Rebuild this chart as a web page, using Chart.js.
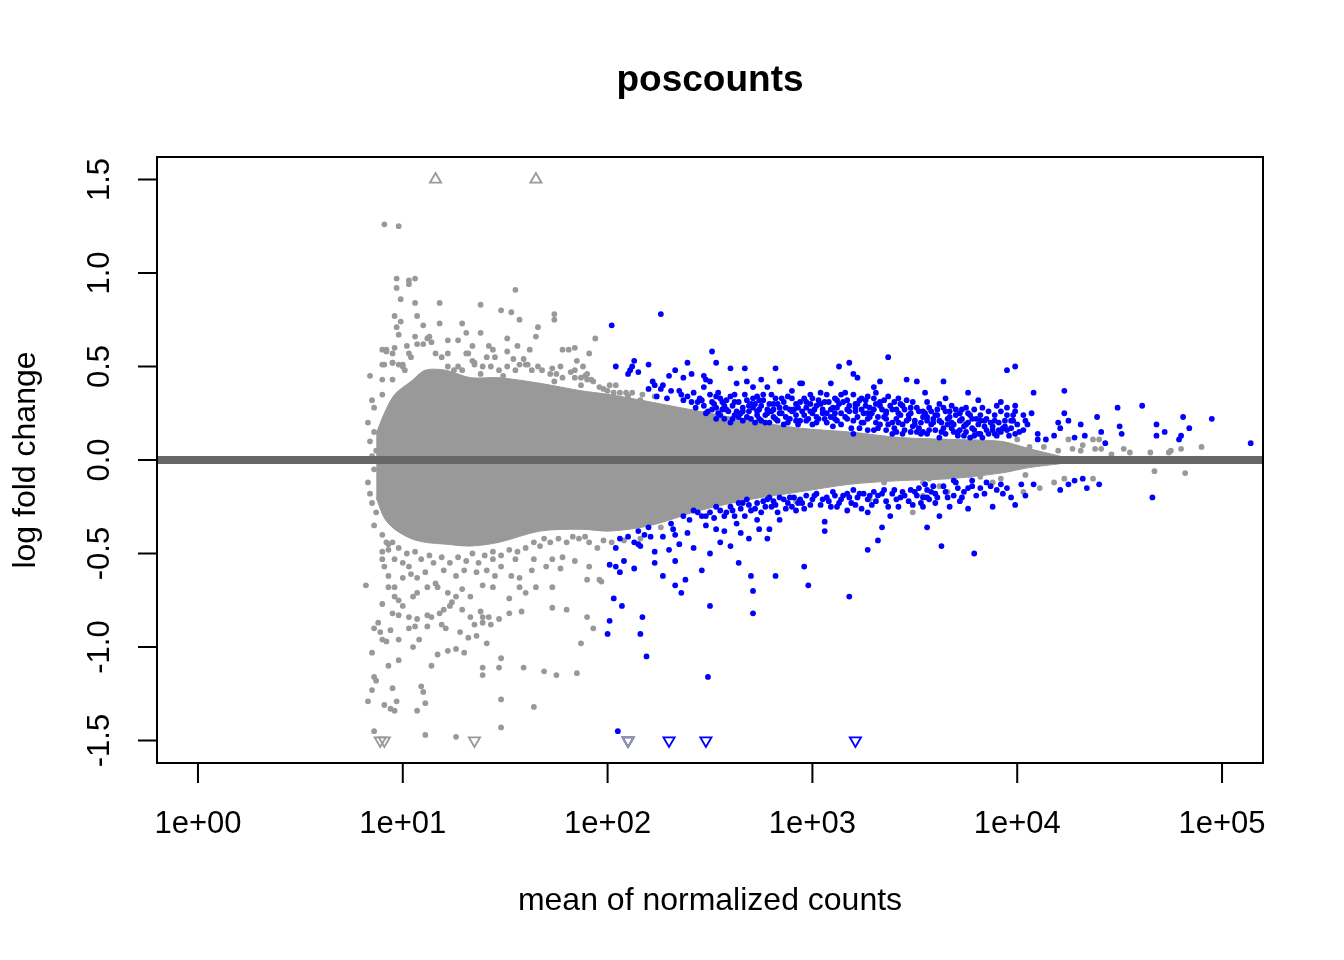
<!DOCTYPE html>
<html>
<head>
<meta charset="utf-8">
<script src="https://cdn.jsdelivr.net/npm/chart.js@4.4.1/dist/chart.umd.min.js"></script>
<style>
  html, body { margin: 0; padding: 0; background: #fff; }
  #wrap { width: 1344px; height: 960px; }
</style>
</head>
<body>
<div id="wrap"><canvas id="maPlot"></canvas></div>
<script>
// MA plot "poscounts": x = log10(mean of normalized counts), y = log fold change

// dense cloud of non-significant genes (outline of the solid grey mass)
const coreLogMean = [0.87, 0.91, 0.96, 1.04, 1.11, 1.21, 1.33, 1.47, 1.67, 1.87, 2.01, 2.21, 2.45, 2.70, 2.94, 3.18, 3.43, 3.67, 3.92, 4.06, 4.21];
const coreUpper   = [0.14, 0.25, 0.35, 0.42, 0.48, 0.48, 0.44, 0.44, 0.41, 0.37, 0.35, 0.31, 0.26, 0.21, 0.17, 0.15, 0.12, 0.11, 0.10, 0.06, 0.02];
const coreLower   = [-0.20, -0.31, -0.37, -0.42, -0.44, -0.45, -0.46, -0.44, -0.38, -0.37, -0.38, -0.35, -0.27, -0.21, -0.17, -0.13, -0.11, -0.10, -0.07, -0.04, -0.02];

// non-significant genes outside the dense cloud [log10 mean, lfc]
const nonSigPoints = [
  [0.91,1.26],[0.98,1.25],[0.97,0.97],[0.97,0.92],[1.03,0.96],[1.03,0.94],[1.06,0.97],[0.99,0.86],[1.06,0.84],[1.18,0.84],
  [1.38,0.83],[1.48,0.80],[1.07,0.77],[0.96,0.77],[0.99,0.74],[0.97,0.71],[1.10,0.72],[1.18,0.73],[1.29,0.73],[0.98,0.67],
  [1.06,0.66],[1.31,0.68],[1.38,0.68],[1.13,0.66],[1.22,0.64],[1.27,0.64],[1.34,0.61],[1.02,0.61],[0.96,0.60],[0.92,0.58],
  [1.03,0.57],[1.42,0.61],[1.44,0.59],[1.31,0.57],[1.41,0.55],[0.91,0.51],[0.95,0.52],[1.00,0.51],[1.27,0.50],[1.35,0.52],
  [1.39,0.50],[1.43,0.50],[0.84,0.45],[0.90,0.43],[0.95,0.43],[0.90,0.35],[0.86,0.28],[0.83,0.20],[0.92,0.22],
  [0.90,0.59],[0.92,0.59],[0.95,0.57],[0.95,0.52],[0.90,0.51],[0.98,0.51],[1.00,0.50],[1.01,0.48],[1.04,0.55],[1.07,0.62],
  [1.10,0.62],[1.12,0.65],[1.14,0.63],[1.16,0.57],[1.19,0.55],[1.22,0.57],[1.22,0.50],[1.25,0.48],[1.29,0.48],[1.32,0.57],
  [1.34,0.53],[1.35,0.51],[1.38,0.46],[1.45,0.55],[1.47,0.48],[1.55,0.48],[1.57,0.51],[1.61,0.51],[1.63,0.48],[1.66,0.50],
  [1.68,0.48],[1.75,0.46],[1.78,0.44],[1.84,0.44],[1.87,0.44],[1.90,0.43],[1.96,0.39],[2.00,0.37],[2.03,0.36],[2.06,0.36],
  [2.10,0.34],[0.84,0.10],[0.85,0.02],[0.86,-0.05],[0.84,-0.18],[0.86,0.15],[0.87,-0.28],[0.87,0.05],[0.85,0.32],[0.86,-0.35],
  [1.55,0.91],[1.53,0.79],[1.57,0.75],[1.66,0.71],[1.65,0.66],[1.74,0.78],[1.74,0.75],[1.94,0.65],[1.78,0.59],[1.81,0.59],
  [1.84,0.60],[1.91,0.57],[1.85,0.53],[1.62,0.59],[1.51,0.65],[1.56,0.61],[1.51,0.58],[1.54,0.54],[1.59,0.54],[1.60,0.51],
  [1.51,0.50],[1.77,0.50],[1.88,0.50],[1.90,0.46],[1.73,0.49],[1.72,0.46],[1.82,0.47],[1.84,0.48],[1.89,0.45],[1.49,0.45],
  [1.74,0.42],[1.87,0.40],[1.92,0.43],[1.93,0.42],[1.98,0.38],[2.01,0.40],[2.04,0.40],[2.09,0.36],[2.12,0.36],[2.17,0.35],
  [2.23,0.34],[2.03,0.32],[2.16,0.32],
  [0.83,-0.12],[0.85,-0.23],[0.82,-0.67],[0.90,-0.49],[0.93,-0.48],[0.90,-0.53],[0.91,-0.57],[0.93,-0.62],[0.96,-0.68],[0.93,-0.68],
  [0.90,-0.77],[0.96,-0.73],[0.98,-0.75],[0.95,-0.82],[0.98,-0.83],[1.00,-0.78],[1.05,-0.73],[1.07,-0.71],[1.12,-0.68],[1.03,-0.84],
  [1.07,-0.85],[1.12,-0.83],[1.14,-0.84],[1.18,-0.82],[1.20,-0.80],[1.23,-0.78],[1.24,-0.76],[1.29,-0.80],[1.33,-0.84],[1.38,-0.81],
  [1.39,-0.84],[1.42,-0.84],[1.47,-0.85],[0.88,-0.87],[0.86,-0.90],[0.89,-0.92],[0.94,-0.91],[1.03,-0.90],[1.06,-0.89],[1.12,-0.89],
  [1.19,-0.88],[1.21,-0.90],[1.28,-0.92],[1.35,-0.88],[1.39,-0.87],[1.43,-0.88],[0.90,-0.96],[0.92,-0.97],[0.98,-0.96],[1.08,-0.96],
  [1.05,-1.00],[1.32,-0.95],[1.36,-0.94],[1.41,-0.98],[0.85,-1.03],[1.17,-1.04],[1.22,-1.02],[1.26,-1.01],[1.30,-1.03],[1.48,-1.06],
  [0.98,-1.07],[0.93,-1.10],[1.14,-1.10],[1.39,-1.11],[1.39,-1.15],[1.47,-1.11],[0.86,-1.16],[0.87,-1.18],[0.85,-1.23],[0.95,-1.22],
  [1.09,-1.21],[1.10,-1.24],[0.83,-1.29],[0.97,-1.29],[0.91,-1.31],[0.94,-1.33],[0.96,-1.34],[1.07,-1.34],[1.11,-1.30],[1.48,-1.28],
  [0.86,-1.45],[1.11,-1.47],[1.26,-1.48],[1.48,-1.43],
  [1.00,-0.63],[1.04,-0.61],[1.07,-0.63],[1.11,-0.60],[1.16,-0.66],[1.22,-0.71],[1.26,-0.73],[1.29,-0.69],[1.33,-0.73],[1.26,-0.62],
  [1.30,-0.59],[1.36,-0.60],[1.41,-0.59],[1.44,-0.53],[1.48,-0.57],[1.45,-0.62],[1.39,-0.67],[1.44,-0.68],[1.20,-0.59],[1.17,-0.68],
  [0.96,-0.53],[1.00,-0.55],[1.03,-0.57],[0.92,-0.44],[0.95,-0.44],
  [0.90,-0.40],[0.93,-0.45],[0.98,-0.47],[1.02,-0.50],[1.06,-0.49],[1.09,-0.53],[1.13,-0.51],[1.15,-0.55],[1.19,-0.52],[1.23,-0.55],
  [1.27,-0.52],[1.31,-0.54],[1.34,-0.50],[1.37,-0.55],[1.40,-0.51],[1.44,-0.49],[1.48,-0.51],[1.52,-0.48],[1.56,-0.49],[1.60,-0.47],
  [1.64,-0.44],[1.69,-0.42],[1.72,-0.44],[1.76,-0.42],[1.80,-0.44],[1.83,-0.41],[1.89,-0.41],[1.98,-0.43],[2.02,-0.44],
  [1.53,-0.62],[1.57,-0.63],[1.65,-0.68],[1.73,-0.68],[1.52,-0.74],[1.57,-0.68],[1.60,-0.71],[1.52,-0.82],[1.58,-0.81],[1.73,-0.79],
  [1.80,-0.80],[1.90,-0.84],[1.93,-0.90],[1.87,-0.98],[1.59,-1.11],[1.69,-1.13],[1.75,-1.15],[1.85,-1.14],[1.64,-1.32],[1.84,-0.54],
  [1.91,-0.57],[1.90,-0.64],[1.96,-0.64],[1.73,-0.53],[1.78,-0.52],[1.77,-0.58],[1.70,-0.57],[1.64,-0.53],[1.63,-0.59],[1.67,-0.46],
  [1.86,-0.42],[1.91,-0.44],[1.95,-0.47],[1.55,-0.53],[1.97,-0.65],[2.08,-0.43],[2.16,-0.42],[2.26,-0.36],
  [2.92,-0.22],[3.28,-0.21],[3.49,-0.28],[3.54,-0.19],[3.54,-0.12],[3.35,-0.12],[3.73,0.21],[4.25,0.11],[4.27,0.06],[4.32,0.08],
  [4.37,0.11],[4.38,0.06],[4.40,0.11],[4.41,0.06],[4.52,0.06],[4.65,0.04],[4.74,0.04],[4.80,0.06],[4.90,0.07],[4.82,-0.07],
  [4.67,-0.06],[4.75,0.05],[4.55,0.04],[4.46,0.03],[4.37,-0.10],[4.23,-0.10],[4.18,-0.12],[4.11,-0.15],[4.04,-0.08],[4.03,-0.17],
  [3.92,-0.10],[3.88,-0.12],[3.82,-0.09],[3.77,-0.08],[3.66,-0.17],[3.62,-0.14],[3.57,-0.10],[4.00,0.11],[4.06,0.07],[4.13,0.07],
  [4.20,0.05],[4.31,0.05]
];

// significant genes (padj < 0.1) [log10 mean, lfc]
const sigPoints = [
  [2.02,0.72],[2.26,0.78],[2.51,0.58],[2.04,0.50],[2.13,0.53],[2.12,0.50],[2.11,0.48],[2.10,0.46],[2.15,0.47],[2.20,0.51],
  [2.20,0.38],[2.39,0.52],[2.53,0.52],[2.33,0.48],[2.30,0.45],[2.41,0.46],[2.37,0.44],[2.60,0.49],[2.67,0.49],[2.82,0.49],
  [2.22,0.42],[2.23,0.40],[2.27,0.40],[2.26,0.38],[2.24,0.34],[2.31,0.37],[2.35,0.37],[2.36,0.35],[2.39,0.34],[2.37,0.32],
  [2.47,0.45],[2.48,0.43],[2.50,0.42],[2.47,0.39],[2.63,0.41],[2.68,0.42],[2.71,0.39],[2.75,0.43],[2.78,0.39],[2.84,0.42],
  [2.90,0.37],[2.95,0.41],[3.09,0.41],[3.13,0.50],[3.18,0.52],[3.20,0.46],[3.22,0.44],[3.37,0.55],[3.33,0.42],[3.30,0.39],
  [3.46,0.43],[3.51,0.42],[3.55,0.36],[2.29,0.33],[2.44,0.31],[2.53,0.34],[2.56,0.31],[2.58,0.32],
  [2.53,0.28],[2.56,0.27],[2.61,0.29],[2.65,0.25],[2.68,0.32],[2.71,0.28],[2.73,0.24],[2.76,0.32],[2.78,0.27],[2.81,0.23],
  [2.83,0.30],[2.85,0.25],[2.88,0.20],[2.61,0.22],[2.66,0.21],[2.72,0.20],[2.79,0.20],[2.53,0.22],[2.91,0.27],[2.94,0.31],
  [2.97,0.28],[3.00,0.25],[3.03,0.32],[3.05,0.27],[3.09,0.23],[3.10,0.28],[3.14,0.35],[3.16,0.36],[3.15,0.31],[3.17,0.27],
  [3.20,0.21],[3.23,0.32],[3.25,0.25],[3.28,0.28],[3.32,0.23],[3.35,0.32],[3.36,0.26],[3.39,0.20],[3.43,0.24],[3.46,0.21],
  [3.49,0.18],[3.53,0.14],[3.55,0.25],[3.57,0.28],[3.57,0.16],[3.30,0.16],[3.10,0.18],[3.02,0.20],[2.94,0.21],[3.20,0.14],
  [3.39,0.14],[2.94,0.41],[3.07,0.35],[3.24,0.33],[3.37,0.34],[3.46,0.32],
  [2.45,0.33],[2.47,0.29],[2.49,0.26],[2.51,0.31],[2.55,0.24],[2.57,0.29],[2.59,0.26],[2.60,0.34],[2.62,0.31],[2.63,0.26],
  [2.64,0.23],[2.66,0.28],[2.67,0.35],[2.69,0.26],[2.70,0.22],[2.71,0.33],[2.72,0.30],[2.74,0.27],[2.75,0.21],[2.76,0.35],
  [2.77,0.24],[2.79,0.30],[2.80,0.26],[2.82,0.33],[2.83,0.21],[2.84,0.28],[2.86,0.31],[2.87,0.23],[2.89,0.27],[2.90,0.33],
  [2.92,0.24],[2.93,0.19],[2.95,0.26],[2.96,0.33],[2.98,0.22],[2.99,0.30],[3.01,0.27],[3.02,0.23],[3.04,0.30],[3.06,0.22],
  [3.07,0.25],[3.08,0.31],[3.11,0.25],[3.12,0.21],[3.13,0.30],[3.16,0.23],[3.18,0.29],[3.19,0.17],[3.21,0.26],[3.22,0.30],
  [3.24,0.20],[3.26,0.29],[3.27,0.22],[3.29,0.25],[3.31,0.30],[3.33,0.19],[3.34,0.27],[3.36,0.22],[3.38,0.29],[3.40,0.17],
  [3.41,0.27],[3.42,0.20],[3.44,0.29],[3.45,0.16],[3.47,0.24],[3.48,0.28],[3.50,0.21],[3.51,0.15],[3.52,0.26],[3.58,0.19],
  [3.60,0.24],[3.63,0.15],[3.65,0.26],[3.66,0.19],[3.68,0.20],[3.70,0.27],[3.71,0.13],[3.73,0.22],[3.75,0.15],[3.76,0.20],
  [3.78,0.17],[3.80,0.22],[3.81,0.14],[3.84,0.18],[3.86,0.14],[3.89,0.21],[3.91,0.16],[3.94,0.21],[3.96,0.13],
  [2.42,0.36],[2.50,0.35],[2.54,0.36],[2.62,0.35],[2.73,0.34],[2.80,0.35],[2.88,0.34],[2.99,0.35],[3.04,0.36],[3.11,0.33],
  [3.20,0.35],[3.27,0.34],[3.31,0.36],[3.42,0.33],
  [2.41,0.31],[2.46,0.32],[2.52,0.30],[2.55,0.33],[2.64,0.31],[2.70,0.30],[2.74,0.32],[2.81,0.30],[2.85,0.33],[2.92,0.30],
  [2.97,0.31],[3.00,0.33],[3.06,0.31],[3.12,0.32],[3.17,0.32],[3.21,0.30],[3.26,0.32],[3.30,0.33],[3.33,0.31],[3.40,0.31],
  [3.43,0.30],[3.49,0.31],[3.56,0.31],[3.62,0.30],[3.68,0.29],[3.75,0.28],[3.83,0.28],[3.90,0.29],
  [2.43,0.28],[2.48,0.25],[2.51,0.27],[2.54,0.25],[2.58,0.27],[2.62,0.24],[2.66,0.26],[2.69,0.29],[2.73,0.26],[2.75,0.29],
  [2.78,0.25],[2.81,0.27],[2.84,0.25],[2.87,0.28],[2.90,0.26],[2.93,0.28],[2.96,0.24],[2.99,0.26],[3.02,0.29],[3.05,0.25],
  [3.09,0.27],[3.12,0.28],[3.14,0.25],[3.18,0.26],[3.21,0.28],[3.24,0.27],[3.27,0.25],[3.30,0.27],[3.33,0.29],[3.36,0.25],
  [3.39,0.27],[3.42,0.25],[3.45,0.27],[3.48,0.25],[3.51,0.28],[3.54,0.23],[3.58,0.26],[3.61,0.24],[3.64,0.28],[3.67,0.26],
  [3.70,0.24],[3.73,0.27],[3.76,0.25],[3.79,0.27],[3.82,0.24],[3.86,0.26],[3.89,0.24],[3.92,0.26],[3.95,0.24],[3.99,0.26],
  [4.03,0.24],[4.07,0.25],
  [2.57,0.22],[2.60,0.20],[2.68,0.23],[2.74,0.22],[2.77,0.20],[2.82,0.22],[2.86,0.19],[2.89,0.22],[2.92,0.21],[2.97,0.21],
  [3.00,0.19],[3.03,0.22],[3.07,0.20],[3.11,0.22],[3.14,0.19],[3.17,0.22],[3.22,0.23],[3.25,0.20],[3.28,0.23],[3.31,0.20],
  [3.35,0.23],[3.37,0.19],[3.41,0.22],[3.44,0.19],[3.47,0.22],[3.50,0.19],[3.53,0.20],[3.56,0.23],[3.59,0.22],[3.63,0.20],
  [3.66,0.22],[3.69,0.19],[3.72,0.21],[3.75,0.19],[3.78,0.22],[3.81,0.19],[3.84,0.21],[3.88,0.18],[3.91,0.20],[3.94,0.18],
  [3.97,0.21],[4.00,0.19],[4.04,0.21],
  [3.23,0.17],[3.27,0.16],[3.32,0.17],[3.36,0.16],[3.41,0.15],[3.44,0.14],[3.48,0.15],[3.52,0.17],[3.56,0.14],[3.60,0.16],
  [3.65,0.14],[3.68,0.17],[3.71,0.15],[3.74,0.13],[3.79,0.16],[3.82,0.14],[3.85,0.16],[3.89,0.14],[3.92,0.15],[3.95,0.16],
  [3.99,0.14],[4.03,0.16],
  [2.04,-0.47],[2.01,-0.56],[2.04,-0.57],[2.06,-0.60],[2.08,-0.54],[2.13,-0.58],[2.03,-0.74],[2.07,-0.78],[2.01,-0.86],[2.00,-0.93],
  [2.17,-0.84],[2.16,-0.93],[2.19,-1.05],[2.05,-1.45],[2.06,-0.42],[2.10,-0.41],[2.13,-0.44],[2.15,-0.45],[2.18,-0.40],[2.20,-0.36],
  [2.23,-0.55],[2.33,-0.54],[2.27,-0.62],[2.33,-0.67],[2.36,-0.71],[2.38,-0.64],[2.46,-0.59],[2.50,-0.50],[2.50,-0.78],[2.64,-0.55],
  [2.70,-0.62],[2.71,-0.70],[2.71,-0.82],[2.82,-0.62],[2.96,-0.57],[2.98,-0.67],[3.18,-0.73],[3.27,-0.48],[3.32,-0.43],[3.34,-0.36],
  [3.06,-0.33],[3.06,-0.38],[3.56,-0.36],[2.49,-1.16],[2.16,-0.46],[2.23,-0.49],[2.30,-0.48],[2.35,-0.45],[2.42,-0.47],[2.33,-0.40],
  [2.39,-0.39],[2.48,-0.35],[2.53,-0.37],[2.57,-0.38],[2.55,-0.44],[2.60,-0.46],[2.65,-0.39],[2.69,-0.42],[2.74,-0.37],[2.79,-0.37],
  [2.78,-0.42],[2.84,-0.32],[2.73,-0.32],[2.63,-0.34],[2.67,-0.30],[2.15,-0.38],[2.21,-0.41],[2.27,-0.41],[2.32,-0.37],[2.31,-0.34],
  [2.37,-0.30],[2.40,-0.32],[2.44,-0.28],[2.50,-0.28],[2.55,-0.27],[2.60,-0.25],[2.65,-0.26],[2.68,-0.21],[2.73,-0.23],[2.78,-0.21],
  [2.81,-0.22],[2.84,-0.20],[2.88,-0.23],[2.91,-0.20],[2.94,-0.21],[2.97,-0.19],[3.02,-0.18],[3.07,-0.20],[3.10,-0.17],[3.14,-0.21],
  [3.17,-0.18],[3.20,-0.16],[3.25,-0.18],[3.27,-0.21],[3.30,-0.17],[3.35,-0.16],[3.39,-0.18],[3.41,-0.21],[3.44,-0.17],[3.48,-0.16],
  [3.51,-0.19],[3.54,-0.20],[3.57,-0.21],[3.17,-0.27],[3.24,-0.26],[3.27,-0.28],[3.38,-0.30],[3.42,-0.25],
  [2.46,-0.30],[2.52,-0.31],[2.58,-0.28],[2.62,-0.30],[2.66,-0.23],[2.70,-0.27],[2.75,-0.28],[2.76,-0.22],[2.80,-0.25],[2.83,-0.28],
  [2.86,-0.21],[2.90,-0.25],[2.93,-0.23],[2.96,-0.26],[3.00,-0.21],[3.04,-0.24],[3.08,-0.22],[3.12,-0.25],[3.15,-0.19],[3.19,-0.23],
  [3.22,-0.20],[3.29,-0.24],[3.32,-0.19],[3.36,-0.22],[3.43,-0.20],[3.47,-0.22],[3.50,-0.17],[3.53,-0.23],[3.58,-0.17],[3.64,-0.14],
  [3.66,-0.20],[3.71,-0.15],[3.74,-0.17],[3.84,-0.18],[3.90,-0.16],[3.95,-0.15],[3.97,-0.20],
  [2.42,-0.27],[2.48,-0.30],[2.53,-0.25],[2.57,-0.30],[2.61,-0.27],[2.64,-0.23],[2.69,-0.24],[2.72,-0.26],[2.77,-0.25],[2.79,-0.20],
  [2.82,-0.24],[2.87,-0.26],[2.89,-0.20],[2.92,-0.27],[2.95,-0.23],[2.99,-0.24],[3.01,-0.19],[3.05,-0.21],[3.09,-0.25],[3.11,-0.19],
  [3.13,-0.23],[3.18,-0.20],[3.21,-0.24],[3.23,-0.18],[3.28,-0.19],[3.31,-0.22],[3.34,-0.18],[3.37,-0.25],[3.40,-0.16],[3.45,-0.19],
  [3.49,-0.24],[3.52,-0.15],[3.56,-0.16],[3.60,-0.23],[3.65,-0.17],[3.70,-0.12],[3.72,-0.22],[3.78,-0.14],[3.85,-0.12],[3.93,-0.18],
  [3.95,0.48],[3.99,0.50],[3.64,0.42],[3.65,0.33],[3.76,0.36],[3.81,0.32],[3.92,0.31],[3.95,0.28],[3.99,0.29],[4.08,0.36],
  [4.23,0.37],[4.23,0.25],[4.61,0.29],[4.49,0.28],[4.39,0.23],[4.81,0.23],[4.95,0.22],[4.68,0.19],[4.68,0.13],[4.72,0.15],
  [4.84,0.17],[4.50,0.18],[4.51,0.14],[4.80,0.13],[4.79,0.11],[5.14,0.09],[4.43,0.09],[4.41,0.15],[4.31,0.19],[4.28,0.12],
  [4.33,0.13],[4.25,0.21],[4.20,0.20],[4.21,0.17],[4.18,0.13],[4.10,0.14],[4.10,0.11],[4.14,0.11],[4.05,0.19],[4.01,0.15],
  [3.98,0.21],[3.98,0.24],
  [3.54,0.26],[3.61,0.27],[3.56,0.21],[3.59,0.20],[3.62,0.21],[3.64,0.17],[3.67,0.23],[3.69,0.15],[3.72,0.25],[3.74,0.18],
  [3.77,0.24],[3.79,0.13],[3.82,0.21],[3.85,0.22],[3.87,0.20],[3.88,0.16],[3.90,0.13],[3.93,0.17],[3.97,0.17],[3.54,0.15],
  [3.62,0.12],[3.77,0.12],[3.83,0.12],[3.72,0.16],
  [3.55,-0.13],[3.59,-0.14],[3.60,-0.18],[3.56,-0.20],[3.61,-0.20],[3.54,-0.25],[3.62,-0.30],[3.63,-0.46],[3.79,-0.50],[3.67,-0.25],
  [3.76,-0.26],[3.88,-0.25],[3.99,-0.24],[3.69,-0.19],[3.73,-0.20],[3.80,-0.19],[3.69,-0.11],[3.78,-0.11],[3.76,-0.15],[3.82,-0.15],
  [3.87,-0.14],[3.92,-0.13],[4.02,-0.13],[4.04,-0.19],[4.08,-0.13],[4.21,-0.16],[4.25,-0.13],[4.28,-0.11],[4.32,-0.10],[4.34,-0.15],
  [4.40,-0.13],[4.66,-0.20]
];

// genes beyond the y limits, drawn as triangles on the limit (log10 mean)
const nonSigAbove = [1.16, 1.65];
const nonSigBelow = [0.89, 0.91, 1.35, 2.10];
const sigBelow = [2.10, 2.30, 2.48, 3.21];
const yLimit = 1.5;

const xTickPowers = [0, 1, 2, 3, 4, 5];
const yTickValues = [-1.5, -1.0, -0.5, 0.0, 0.5, 1.0, 1.5];
const xRangeLog = [-0.2, 5.2];
const yRange = [-1.62, 1.62];

const FONT = "'Liberation Sans', Arial, Helvetica, sans-serif";
const toXY = p => ({ x: Math.pow(10, p[0]), y: p[1] });

const rAxes = {
  id: 'rAxes',
  beforeDraw(chart) {
    const ctx = chart.ctx;
    ctx.save();
    ctx.fillStyle = '#ffffff';
    ctx.fillRect(0, 0, chart.width, chart.height);
    ctx.restore();
  },
  afterDraw(chart) {
    const { ctx, chartArea: a } = chart;
    const xs = chart.scales.x, ys = chart.scales.y;
    ctx.save();
    ctx.strokeStyle = '#000';
    ctx.fillStyle = '#000';
    ctx.lineWidth = 2;
    ctx.strokeRect(a.left, a.top, a.right - a.left, a.bottom - a.top);

    // x axis
    ctx.font = '31px ' + FONT;
    ctx.textAlign = 'center';
    ctx.textBaseline = 'middle';
    ctx.beginPath();
    const x0 = xs.getPixelForValue(Math.pow(10, xTickPowers[0]));
    const x1 = xs.getPixelForValue(Math.pow(10, xTickPowers[xTickPowers.length - 1]));
    ctx.moveTo(x0, a.bottom); ctx.lineTo(x1, a.bottom);
    xTickPowers.forEach(p => {
      const px = xs.getPixelForValue(Math.pow(10, p));
      ctx.moveTo(px, a.bottom); ctx.lineTo(px, a.bottom + 20);
    });
    ctx.stroke();
    xTickPowers.forEach(p => {
      const px = xs.getPixelForValue(Math.pow(10, p));
      ctx.fillText('1e+' + String(p).padStart(2, '0'), px, a.bottom + 61);
    });

    // y axis
    ctx.beginPath();
    ctx.moveTo(a.left, ys.getPixelForValue(yTickValues[0]));
    ctx.lineTo(a.left, ys.getPixelForValue(yTickValues[yTickValues.length - 1]));
    yTickValues.forEach(v => {
      const py = ys.getPixelForValue(v);
      ctx.moveTo(a.left, py); ctx.lineTo(a.left - 19, py);
    });
    ctx.stroke();
    yTickValues.forEach(v => {
      const py = ys.getPixelForValue(v);
      ctx.save();
      ctx.translate(a.left - 57, py);
      ctx.rotate(-Math.PI / 2);
      ctx.fillText(v.toFixed(1), 0, 0);
      ctx.restore();
    });

    // labels and title
    const cx = (a.left + a.right) / 2;
    ctx.font = '32px ' + FONT;
    ctx.fillText('mean of normalized counts', cx, 901);
    ctx.save();
    ctx.translate(26, (a.top + a.bottom) / 2);
    ctx.rotate(-Math.PI / 2);
    ctx.fillText('log fold change', 0, 0);
    ctx.restore();
    ctx.font = 'bold 37px ' + FONT;
    ctx.fillText('poscounts', cx, 81);
    ctx.restore();
  }
};

const ptBase = { type: 'scatter', pointStyle: 'circle', pointRadius: 2.9, pointBorderWidth: 0, showLine: false };

new Chart(document.getElementById('maPlot'), {
  type: 'scatter',
  data: {
    datasets: [
      {
        type: 'line', label: 'core upper', order: 5,
        data: coreLogMean.map((v, i) => ({ x: Math.pow(10, v), y: coreUpper[i] })),
        borderColor: '#999999', borderWidth: 1, backgroundColor: '#999999',
        pointRadius: 0, tension: 0.3, fill: '+1'
      },
      {
        type: 'line', label: 'core lower', order: 5,
        data: coreLogMean.map((v, i) => ({ x: Math.pow(10, v), y: coreLower[i] })),
        borderColor: '#999999', borderWidth: 1, pointRadius: 0, tension: 0.3, fill: false
      },
      Object.assign({}, ptBase, {
        label: 'not significant', order: 4,
        data: nonSigPoints.map(toXY),
        backgroundColor: '#999999'
      }),
      Object.assign({}, ptBase, {
        label: 'significant', order: 3,
        data: sigPoints.map(toXY),
        backgroundColor: '#0000ff'
      }),
      {
        type: 'scatter', label: 'ns above', order: 2,
        data: nonSigAbove.map(v => ({ x: Math.pow(10, v), y: yLimit })),
        pointStyle: 'triangle', pointRadius: 6.5, borderColor: '#999999', borderWidth: 1.8,
        backgroundColor: 'rgba(0,0,0,0)'
      },
      {
        type: 'scatter', label: 'ns below', order: 2,
        data: nonSigBelow.map(v => ({ x: Math.pow(10, v), y: -yLimit })),
        pointStyle: 'triangle', rotation: 180, pointRadius: 6.5, borderColor: '#999999', borderWidth: 1.8,
        backgroundColor: 'rgba(0,0,0,0)'
      },
      {
        type: 'scatter', label: 'sig below', order: 2,
        data: sigBelow.map(v => ({ x: Math.pow(10, v), y: -yLimit })),
        pointStyle: 'triangle', rotation: 180, pointRadius: 6.5, borderColor: '#0000ff', borderWidth: 1.8,
        backgroundColor: 'rgba(0,0,0,0)'
      },
      {
        type: 'line', label: 'zero', order: 1,
        data: [{ x: Math.pow(10, xRangeLog[0]), y: 0 }, { x: Math.pow(10, xRangeLog[1]), y: 0 }],
        borderColor: '#666666', borderWidth: 8, pointRadius: 0, fill: false
      }
    ]
  },
  options: {
    responsive: true,
    maintainAspectRatio: false,
    animation: false,
    events: [],
    layout: { padding: { left: 157, right: 81, top: 157, bottom: 197 } },
    plugins: { legend: { display: false }, tooltip: { enabled: false }, title: { display: false } },
    scales: {
      x: {
        type: 'logarithmic', display: false, bounds: 'data',
        min: Math.pow(10, xRangeLog[0]), max: Math.pow(10, xRangeLog[1])
      },
      y: { type: 'linear', display: false, bounds: 'data', min: yRange[0], max: yRange[1] }
    }
  },
  plugins: [rAxes]
});
</script>
</body>
</html>
